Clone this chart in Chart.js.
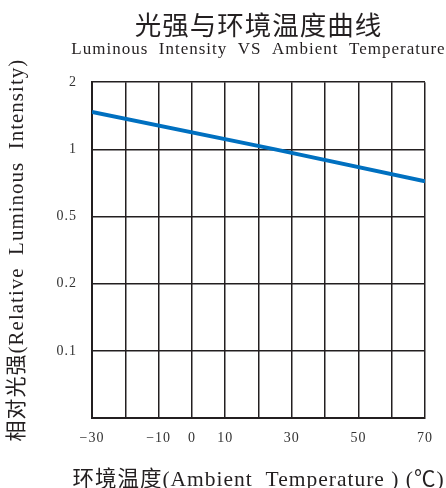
<!DOCTYPE html>
<html>
<head>
<meta charset="utf-8">
<script src="https://cdn.jsdelivr.net/npm/chart.js@4.4.1/dist/chart.umd.min.js"></script>
<style>
  html, body { margin: 0; padding: 0; background: #fff; }
</style>
</head>
<body>
<canvas id="ledChart" width="446" height="488"></canvas>
<script>
var temps = [-30, 25, 70];
var intensity = [1.47, 1.0, 0.72];

var xLabelled = [-30, -10, 0, 10, 30, 50, 70];
var yTickValues = [0.1, 0.2, 0.5, 1, 2];   // evenly spaced rows, bottom row unlabeled

var serif = "'Liberation Serif', 'Times New Roman', 'Noto Sans CJK SC', serif";
var ink = '#231f20';

// y axis rows: 0.1 at row 1 ... 2 at row 5, log within each row
function toRow(v) {
    for (var i = 0; i < yTickValues.length - 1; i++) {
        var a = yTickValues[i], b = yTickValues[i + 1];
        if (v <= b || i == yTickValues.length - 2) {
            return i + 1 + Math.log(v / a) / Math.log(b / a);
        }
    }
}

var points = temps.map(function (t, i) { return { x: t, y: toRow(intensity[i]) }; });

// the printed chart uses loose letter spacing, and its captions are
// wider than the plot, so don't let chart.js squeeze them to fit
var printLook = {
    id: 'printLook',
    beforeUpdate: function (chart) { chart.ctx.letterSpacing = '1px'; },
    afterLayout: function (chart) {
        chart.boxes.forEach(function (b) {
            if (b instanceof Chart.Title._element) { b.left -= 60; b.right += 60; }
        });
        var x = chart.scales.x;
        if (x && !x._wideTitle) {
            x._wideTitle = true;
            var drawTitle = x.drawTitle;
            x.drawTitle = function () {
                var l = this.left, r = this.right;
                this.left = l - 60; this.right = r + 60;
                drawTitle.call(this);
                this.left = l; this.right = r;
            };
        }
    },
    beforeDraw: function (chart) { chart.ctx.letterSpacing = '1px'; }
};

var ctx = document.getElementById('ledChart').getContext('2d');
var ledChart = new Chart(ctx, {
    type: 'line',
    data: {
        datasets: [{
            label: 'Relative Luminous Intensity',
            data: points,
            borderColor: '#0070c0',
            borderWidth: 4,
            pointRadius: 0,
            tension: 0,
        }]
    },
    plugins: [printLook],
    options: {
        responsive: false,
        animation: false,
        layout: { padding: { top: 0, right: 21, bottom: 0, left: 0 } },
        plugins: {
            legend: { display: false },
            tooltip: { enabled: false },
            title: {
                display: true,
                fullSize: false,
                text: '光强与环境温度曲线',
                color: ink,
                font: { family: serif, size: 26.5, weight: 'normal' },
                padding: { top: 12, bottom: 0 }
            },
            subtitle: {
                display: true,
                fullSize: false,
                text: 'Luminous  Intensity  VS  Ambient  Temperature',
                color: ink,
                font: { family: serif, size: 17 },
                padding: { top: -4, bottom: 22 }
            }
        },
        scales: {
            x: {
                type: 'linear',
                min: -30,
                max: 70,
                border: { color: ink, width: 2 },
                grid: { color: ink, lineWidth: 1.5, drawTicks: false },
                afterFit: function (scale) { scale.height = 70; },
                ticks: {
                    stepSize: 10,
                    padding: 12,
                    color: '#333',
                    font: { family: serif, size: 14 },
                    autoSkip: false,
                    maxRotation: 0,
                    callback: function (v) {
                        if (xLabelled.indexOf(v) < 0) return '';
                        return v < 0 ? '\u2212' + Math.abs(v) : '' + v;
                    }
                },
                title: {
                    display: true,
                    text: '环境温度(Ambient  Temperature ) (℃)',
                    color: ink,
                    font: { family: serif, size: 21.5, lineHeight: 1 },
                    padding: { top: 0, bottom: -3 }
                }
            },
            y: {
                type: 'linear',
                min: 0,
                max: 5,
                border: { color: ink, width: 2 },
                grid: { color: ink, lineWidth: 1.5, drawTicks: false },
                afterFit: function (scale) { scale.width = 92; },
                ticks: {
                    stepSize: 1,
                    padding: 15,
                    color: '#333',
                    font: { family: serif, size: 14 },
                    callback: function (v) {
                        return v >= 1 ? '' + yTickValues[v - 1] : '';
                    }
                },
                title: {
                    display: true,
                    text: '相对光强(Relative  Luminous  Intensity)',
                    color: ink,
                    font: { family: serif, size: 21, lineHeight: 1 },
                    padding: { top: 7, bottom: 0 }
                }
            }
        }
    }
});
</script>
</body>
</html>
